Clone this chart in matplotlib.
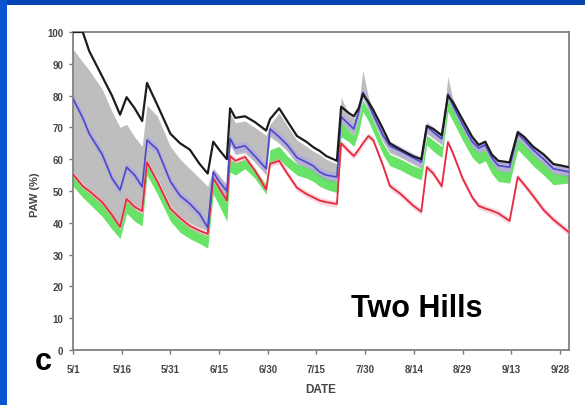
import matplotlib
matplotlib.use("Agg")
import matplotlib.pyplot as plt
from matplotlib.patches import Rectangle
import numpy as np

plt.rcParams['font.family'] = ['Liberation Sans', 'DejaVu Sans']

# ---- data (days after May 1) ----
days = [0, 3, 5, 9, 12, 14.5, 16.5, 19, 21.3, 22.8, 26, 30, 33, 36, 39, 41.5, 43.2, 45, 47.4,
        48.4, 50, 53, 56, 59.5, 60.7, 63.5, 66, 69, 72, 74, 76, 78, 81.3, 82.6, 85, 86.5, 88,
        89.3, 91, 92.5, 95.5, 97.6, 101, 104.7, 107.3, 109, 111, 113.6, 115.5, 117, 120, 123,
        125, 127, 129, 131, 134.5, 137, 139, 141.7, 145, 148, 152.8]

black = [100, 100, 94, 86, 80, 74, 79.5, 76, 72, 84, 77, 68, 65, 63, 58.5, 55.5, 65.5, 63, 60,
         76, 73, 73.5, 71.7, 69, 72.6, 76, 72, 67.3, 65.4, 63.8, 62.6, 61, 59.5, 76.5, 74.5, 73.5, 76,
         80.5, 78, 75.5, 69.5, 65, 63, 61, 60, 70.5, 69.5, 67.5, 80, 78, 72.5, 67,
         64.5, 65.5, 61.5, 59.5, 59, 68.5, 67, 64, 61.5, 58.5, 57.5]

blue = [79, 73, 68, 61.5, 54, 50.3, 57.5, 55, 51.3, 66, 63, 53, 48.5, 46, 42.8, 38.5, 56, 53, 50,
        66.5, 63.5, 64.2, 61, 57, 69.5, 67, 64.5, 60.5, 59, 57.9, 56, 55, 54.4, 73.3, 71, 69.5, 74.8,
        81, 77.5, 74, 67.5, 64.2, 62.5, 60.5, 59.1, 70.4, 68.5, 66.4, 80.5, 77, 71, 65.5,
        63.5, 64.5, 60.5, 58, 57.5, 68, 66, 63, 60, 57, 56]

red = [55.3, 51.6, 50, 46.5, 42.5, 38.7, 47.5, 45, 43.7, 59, 53, 44.5, 41.5, 39, 37.5, 36.5, 54, 51, 47,
       61, 59.5, 60.7, 56.5, 50.5, 58.5, 59.5, 55.5, 51, 49, 48, 47, 46.5, 45.9, 65, 62.5, 61, 63,
       65, 67.3, 66, 58, 51.6, 49, 45.5, 43.5, 57.5, 55.5, 51.5, 65.4, 62, 54, 48,
       45.3, 44.5, 43.8, 43, 40.6, 54.4, 52, 48.5, 44, 41, 37]

gray_hi = [94.7, 90.5, 88, 82, 75, 70, 71, 67, 64, 77, 73.5, 64, 60, 57, 54, 51.5, 57, 55, 52,
           74.5, 71.5, 72, 70, 67.5, 71, 74.5, 70.5, 66, 64, 62.5, 61.5, 60, 58.5, 79.5, 74, 73, 77,
           88, 79.5, 75.5, 69.5, 65, 63, 61, 60, 71, 70, 68, 86, 79, 72.5, 67,
           64.5, 65.5, 61.5, 59.5, 59, 68.5, 67, 64, 61.5, 58.5, 57.5]

gray_lo = [56, 52.5, 50.5, 47, 43, 39.5, 48, 45.5, 44.5, 59.5, 54, 45.5, 42, 40, 38.5, 37.5, 54, 51, 47.5,
           64.5, 61.5, 62, 59, 55, 67, 65, 62.5, 58.5, 57, 56, 54, 53, 52.5, 71, 69, 67.5, 72.5,
           79, 75.5, 72, 65.5, 62, 60.5, 58.5, 57, 68, 66.5, 64.5, 78.5, 75, 69, 63.5,
           61.5, 62.5, 58.5, 56, 55.5, 66, 64, 61, 58, 55, 54]

green_hi = [55, 51.5, 49.5, 46, 42, 38, 47, 44.5, 43, 58.5, 52.5, 44, 41, 38.5, 37, 36, 53, 50.5, 46.5,
            60, 59, 60, 57, 52, 63, 64, 61, 58.5, 57.5, 56.5, 55, 54, 53, 71.5, 69, 67.5, 72.5,
            78.5, 75.5, 72, 65, 61.5, 60, 58, 57, 67.5, 66, 64, 78.5, 75.5, 69.5, 64,
            62, 63, 59, 56.5, 56, 66.5, 64.5, 61.5, 58.5, 55.5, 55]

green_lo = [51.5, 48, 46, 42, 38, 35, 43, 40.5, 39, 55, 49, 40.5, 37, 35, 33.5, 32, 49, 45.5, 40.5,
            56, 55, 57, 54, 49, 59, 60, 57.5, 55, 54, 53, 51.5, 50.5, 49.5, 67, 65.5, 64, 68.5,
            75, 72, 68.5, 61.5, 58, 56.5, 54.5, 53.5, 64.5, 62.5, 60.5, 75, 72, 66, 60.5,
            58.5, 59.5, 55.5, 53, 52.5, 63, 61, 58, 55, 52, 52.5]

tick_labels = ["5/1", "5/16", "5/31", "6/15", "6/30", "7/15", "7/30", "8/14", "8/29", "9/13", "9/28"]

# ---- figure ----
W, H = 585, 406
fig = plt.figure(figsize=(W / 100, H / 100), dpi=100)
fig.patch.set_facecolor('white')

# blue slide frame
fig.patches.append(Rectangle((0, 1 - 6 / H), 1, 6 / H, transform=fig.transFigure,
                             facecolor='#0745b5', edgecolor='none', zorder=0))
fig.patches.append(Rectangle((0, 0), 7 / W, 1, transform=fig.transFigure,
                             facecolor='#0a55d2', edgecolor='none', zorder=0))

ax = fig.add_axes([73 / W, 1 - 351 / H, (569 - 73) / W, (351 - 33) / H])

d = np.array(days)
ax.fill_between(d, gray_lo, gray_hi, color='#bebebe', lw=0, zorder=1)
ax.fill_between(d, green_lo, green_hi, color='#58e058', lw=0, alpha=0.9, zorder=2)
ax.fill_between(d, np.array(blue) - 1.5, np.array(blue) + 1.5, color='#a99af0', lw=0, alpha=0.45, zorder=3)
ax.fill_between(d, np.array(red) - 1.0, np.array(red) + 1.0, color='#f4a0b0', lw=0, alpha=0.45, zorder=3)

ax.plot(d, red, color='#e62a40', lw=1.3, zorder=4)
ax.plot(d, blue, color='#4a48cc', lw=1.2, zorder=5)
ax.plot(d, black, color='#1c1c1c', lw=1.6, zorder=6)

ax.set_xlim(0, 152.8)
ax.set_ylim(0, 100)

ax.set_xticks([15 * i for i in range(len(tick_labels))])
ax.set_xticklabels(tick_labels, fontsize=7, fontweight='bold', color='#444444')
ax.set_yticks(list(range(0, 101, 10)))
ax.set_yticklabels([str(v) for v in range(0, 101, 10)], fontsize=7, fontweight='bold', color='#444444')
ax.tick_params(axis='x', direction='out', length=3, width=1, color='#777777', pad=7)
ax.tick_params(axis='y', direction='out', length=3, width=1, color='#777777', pad=4)

for s in ax.spines.values():
    s.set_color('#808080')
    s.set_linewidth(1.3)

fig.text(35 / W, 1 - 195 / H, 'PAW (%)', rotation=90, ha='center', va='center',
         fontsize=8, fontweight='bold', color='#444444')
fig.text(321 / W, 1 - 390 / H, 'DATE', ha='center', va='center',
         fontsize=8.5, fontweight='bold', color='#444444')
fig.text(417 / W, 1 - 309 / H, 'Two Hills', ha='center', va='center',
         fontsize=22, fontweight='bold', color='black')
fig.text(43 / W, 1 - 362 / H, 'c', ha='center', va='center',
         fontsize=22, fontweight='bold', color='black')

fig.savefig('out.png', dpi=100)
